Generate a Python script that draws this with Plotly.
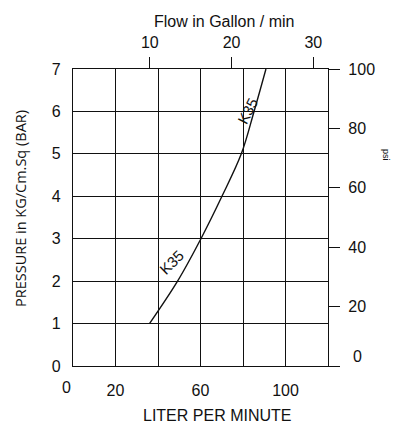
import plotly.graph_objects as go

# ---- data ----
lpm_k35 = [36.0, 49.2, 60.2, 70.1, 79.2, 85.2, 90.8]
bar_k35 = [1, 2, 3, 4, 5, 6, 7]

lpm_grid = [0, 20, 40, 60, 80, 100, 120]
lpm_text = ["", "20", "", "60", "", "100", ""]
bar_ticks = [0, 1, 2, 3, 4, 5, 6, 7]
gpm_ticks = [10, 20, 30]
psi_ticks = [0, 20, 40, 60, 80, 100]
psi_text = ["", "20", "40", "60", "80", "100"]

FONT = "Liberation Sans, Arial, sans-serif"
INK = "#111111"

# plot area in window pixels (page body has an 8px margin)
L, R, T, B = 73, 328, 69, 366
OFF = 8
W, H = 403 - OFF, 424 - OFF


def px(x):
    return (x - L) / (R - L)


def py(y):
    return (B - y) / (B - T)


fig = go.Figure()
fig.add_trace(go.Scatter(x=lpm_k35, y=bar_k35, mode="lines",
                         line=dict(color=INK, width=1.4, shape="spline"),
                         hoverinfo="skip", showlegend=False))
fig.add_trace(go.Scatter(x=[10, 30], y=[0, 100], xaxis="x2", yaxis="y2",
                         mode="markers", marker=dict(opacity=0),
                         hoverinfo="skip", showlegend=False))

fig.update_layout(
    width=W, height=H,
    margin=dict(l=L - OFF, r=W - (R - OFF), t=T - OFF, b=H - (B - OFF),
                pad=0),
    paper_bgcolor="white", plot_bgcolor="white",
    font=dict(family=FONT, size=16, color=INK),
    showlegend=False,
    xaxis=dict(range=[0, 120], tickvals=lpm_grid, ticktext=lpm_text,
               showgrid=True, gridcolor=INK, gridwidth=1.3,
               zeroline=False, showline=True, linecolor=INK, linewidth=1.3,
               mirror=True, ticks="", ticklabelstandoff=10),
    yaxis=dict(range=[0, 7], tickvals=bar_ticks,
               showgrid=True, gridcolor=INK, gridwidth=1.3,
               zeroline=False, showline=True, linecolor=INK, linewidth=1.3,
               mirror=True, ticks="", ticklabelstandoff=8),
    xaxis2=dict(range=[0.6, 31.8], overlaying="x", side="top", anchor="y",
                tickvals=gpm_ticks, ticks="outside", ticklen=11,
                tickwidth=1.3, tickcolor=INK, showgrid=False,
                zeroline=False, showline=False, ticklabelstandoff=3),
    yaxis2=dict(range=[0, 100], overlaying="y", side="right", anchor="x",
                tickvals=psi_ticks, ticktext=psi_text, ticks="outside",
                ticklen=11, tickwidth=1.3, tickcolor=INK, showgrid=False,
                zeroline=False, showline=True, linecolor=INK, linewidth=1.3,
                ticklabelstandoff=5),
)


def note(text, x, y, size=16, angle=0, family=None, **kw):
    d = dict(text=text, x=x, y=y, showarrow=False, textangle=angle,
             xanchor="center", yanchor="middle", font=dict(size=size))
    if family:
        d["font"]["family"] = family
    d.update(kw)
    return d


ann = [
    note("Flow in Gallon / min", px(224.7), py(21), xref="paper", yref="paper"),
    note("LITER PER MINUTE", px(216.7), py(416), xref="paper", yref="paper"),
    note("PRESSURE in KG/Cm.Sq (BAR)", px(20), py(209), size=14.5, angle=-90,
         family="Open Sans, sans-serif", xref="paper", yref="paper"),
    note("psi", px(386), py(155), size=9, angle=90,
         xref="paper", yref="paper"),
    # zero labels drawn slightly offset, as in the source
    note("0", 0, py(388), xref="x", yref="paper", xshift=-7),
    note("0", px(357), 0, xref="paper", yref="y2", yshift=10),
    note("K35", 46.2, 2.45, size=15, angle=-45, xref="x", yref="y"),
    note("K35", 81.9, 6.01, size=15, angle=-63, xref="x", yref="y"),
]
fig.update_layout(annotations=ann)

fig.write_html("out.html")
